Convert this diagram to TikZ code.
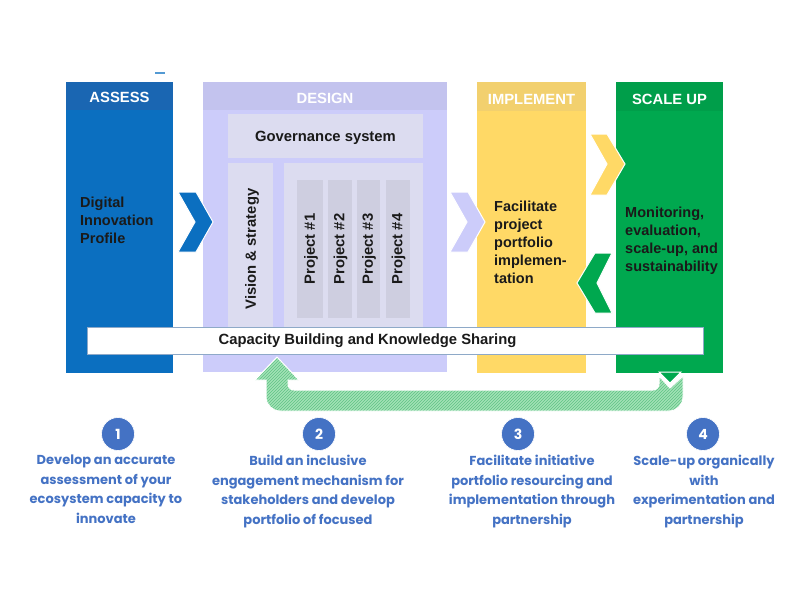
\documentclass[tikz,border=0pt]{standalone}
\usepackage{fontspec}
\setmainfont{Liberation Sans}
\newfontfamily\pop{Poppins}
\usetikzlibrary{patterns}
\definecolor{assessC}{HTML}{0B6FC0}
\definecolor{assessH}{HTML}{1A66B2}
\definecolor{designC}{HTML}{CCCCFA}
\definecolor{designH}{HTML}{C3C3EE}
\definecolor{govC}{HTML}{DCDCF0}
\definecolor{projC}{HTML}{CECEE0}
\definecolor{implC}{HTML}{FFD966}
\definecolor{implH}{HTML}{F2D06E}
\definecolor{scaleC}{HTML}{00A84F}
\definecolor{scaleH}{HTML}{009E4A}
\definecolor{hatchbg}{HTML}{A2E2B7}
\definecolor{hatchln}{HTML}{5FC384}
\definecolor{stepblue}{HTML}{4472C4}
\definecolor{darktext}{HTML}{1A1A1A}
\definecolor{barline}{HTML}{8EA9C8}
\tikzset{
  colhead/.style={font=\bfseries\fontsize{14.8}{16}\selectfont, text=white},
  boxtext/.style={font=\bfseries\fontsize{14.5}{18}\selectfont, text=darktext, align=left, anchor=north west, inner sep=0pt},
  rottext/.style={font=\bfseries\fontsize{14.8}{16}\selectfont, text=darktext, rotate=90},
  chev/.style={draw=white, line width=1pt},
  stepcirc/.style={circle, fill=stepblue, draw=white, line width=0.6pt, minimum size=33pt, inner sep=0pt, text=white, font=\pop\bfseries\fontsize{14}{15}\selectfont},
  steptext/.style={text=stepblue, font=\pop\bfseries\fontsize{13}{19.5}\selectfont, align=center, anchor=north, inner sep=0pt},
}
\begin{document}
\begin{tikzpicture}[x=1pt,y=-1pt]
\useasboundingbox (0,0) rectangle (800,600);
\fill[white] (0,0) rectangle (800,600);
% small mark
\draw[line width=1.5pt, color=assessC!70] (155,73) -- (165,73);
% ASSESS column
\fill[assessC] (66,82) rectangle (173,373);
\fill[assessH] (66,82) rectangle (173,110);
\node[colhead] (assessT) at (119.5,97) {ASSESS};
\node[boxtext, text=darktext] (profile) at (80,197) {Digital\\Innovation\\Profile};
% DESIGN column
\fill[designC] (203,82) rectangle (447,372);
\fill[designH] (203,82) rectangle (447,110);
\node[colhead] (designT) at (325,98) {DESIGN};
\fill[govC] (228,114) rectangle (423,158);
\node[font=\bfseries\fontsize{14.8}{16}\selectfont, text=darktext] (gov) at (325.5,137.5) {Governance system};
\fill[govC] (228,163) rectangle (273,328);
\node[rottext] (vision) at (252,249) {Vision \& strategy};
\fill[govC] (284,163) rectangle (423,328);
\fill[projC] (297,180) rectangle (323,318);
\fill[projC] (328,180) rectangle (352,318);
\fill[projC] (357,180) rectangle (380,318);
\fill[projC] (386,180) rectangle (410,318);
\node[rottext] (p1) at (311,249) {Project \#1};
\node[rottext] (p2) at (340.5,249) {Project \#2};
\node[rottext] (p3) at (369,249) {Project \#3};
\node[rottext] (p4) at (398.5,249) {Project \#4};
% IMPLEMENT column
\fill[implC] (477,82) rectangle (586,373);
\fill[implH] (477,82) rectangle (586,111);
\node[colhead] (implT) at (531.5,99) {IMPLEMENT};
\node[boxtext] (facil) at (494,201) {Facilitate\\project\\portfolio\\implemen-\\tation};
% SCALE UP column
\fill[scaleC] (616,82) rectangle (723,373);
\fill[scaleH] (616,82) rectangle (723,111);
\node[colhead] (scaleT) at (669.5,99) {SCALE UP};
\node[boxtext] (monit) at (625,207) {Monitoring,\\evaluation,\\scale-up, and\\sustainability};
% chevrons
\filldraw[chev, fill=assessC] (178,192) -- (196,192) -- (213,222) -- (196,252) -- (178,252) -- (195,222) -- cycle;
\filldraw[chev, fill=designC] (450,192) -- (468,192) -- (485,222) -- (468,252) -- (450,252) -- (467,222) -- cycle;
\filldraw[chev, fill=implC] (590,134) -- (607,134) -- (625,164) -- (607,195) -- (590,195) -- (607,164) -- cycle;
\filldraw[chev, fill=scaleC] (612,253) -- (595,253) -- (577,283) -- (595,313) -- (612,313) -- (597,283) -- cycle;
% capacity bar
\draw[barline, fill=white, line width=0.8pt] (87,327) rectangle (703,354);
\node[font=\bfseries\fontsize{14.8}{16}\selectfont, text=darktext] (cap) at (367.5,340.5) {Capacity Building and Knowledge Sharing};
% hatched feedback arrow
\path[draw=white, line width=1pt, preaction={fill=hatchbg}, pattern=north east lines, pattern color=hatchln]
  (277,357) -- (299,380) -- (288,380) [rounded corners=6pt] -- (288,390) -- (659,390) [sharp corners] -- (659,376) -- (670,388) -- (683,376) [rounded corners=14pt] -- (683,411) -- (266,411) [sharp corners] -- (266,380) -- (255,380) -- cycle;
\filldraw[draw=white, line width=1pt, fill=scaleC] (659,372) -- (681,372) -- (670,383) -- cycle;
% steps
\node[stepcirc] (s1) at (118,434) {1};
\node[stepcirc] (s2) at (319,434) {2};
\node[stepcirc] (s3) at (518,434) {3};
\node[stepcirc] (s4) at (703,434) {4};
\node[steptext] (t1) at (106,455) {Develop an accurate\\assessment of your\\ecosystem capacity to\\innovate};
\node[steptext] (t2) at (308,455) {Build an inclusive\\engagement mechanism for\\stakeholders and develop\\portfolio of focused};
\node[steptext] (t3) at (532,455) {Facilitate initiative\\portfolio resourcing and\\implementation through\\partnership};
\node[steptext] (t4) at (704,455) {Scale-up organically\\with\\experimentation and\\partnership};
\end{tikzpicture}
\end{document}
